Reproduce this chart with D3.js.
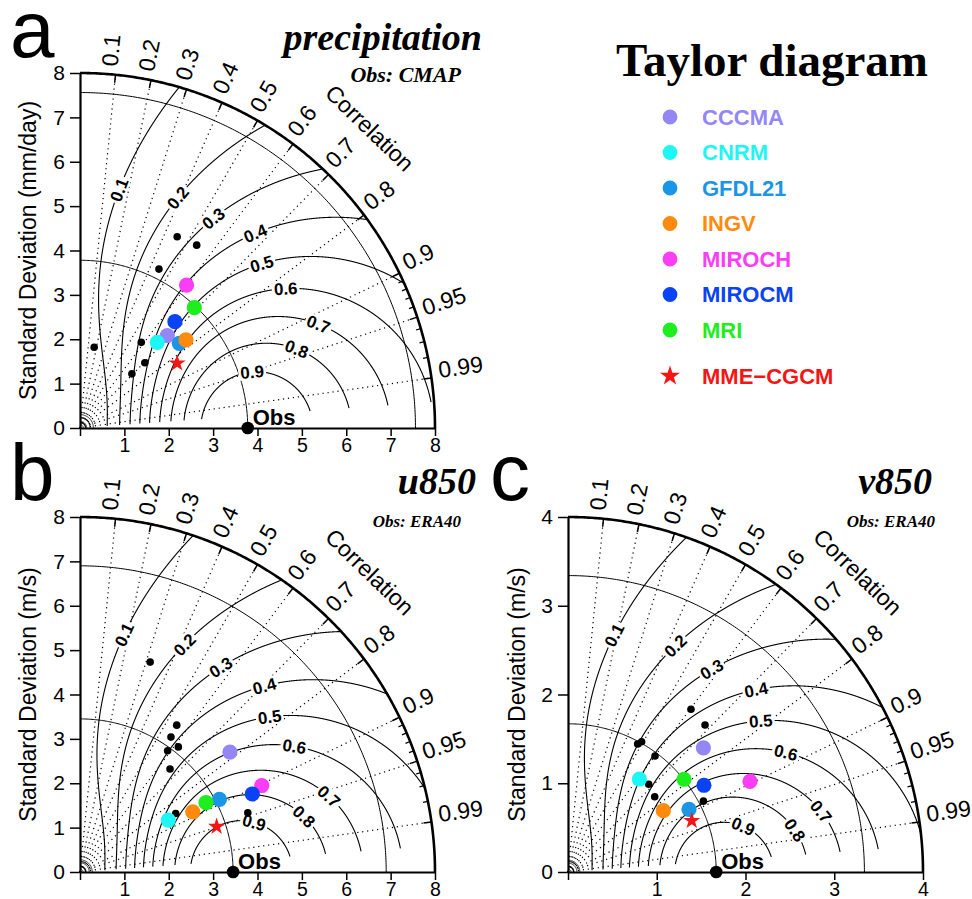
<!DOCTYPE html>
<html><head><meta charset="utf-8">
<script src="https://cdn.jsdelivr.net/npm/d3@7"></script>
<style>body{margin:0;background:#fff}svg{display:block}</style>
</head><body>
<svg id="chart" width="972" height="899"></svg>
<script>
// ---------------- DATA ----------------
const modelNames  = ["CCCMA","CNRM","GFDL21","INGV","MIROCH","MIROCM","MRI","MME\u2212CGCM"];
const modelColors = ["#9586f5","#1ef5f5","#1b95e6","#ff8a0d","#fb3ef5","#0a43f5","#1eee1e","#f51515"];

const corrMajor = [0.1,0.2,0.3,0.4,0.5,0.6,0.7,0.8,0.9,0.95,0.99];
const corrMinor = [0.91,0.92,0.93,0.94,0.96,0.97,0.98];
const skillLevels = [0.1,0.2,0.3,0.4,0.5,0.6,0.7,0.8,0.9];
const stdTicks8 = [0,1,2,3,4,5,6,7,8];
const stdTicks4 = [0,1,2,3,4];
const refArcFactors = [1,2];

// (a) precipitation, Obs: CMAP
const precipObsStd = 3.78;
const precipModelStd  = [2.864,2.601,2.941,3.105,4.016,3.212,3.740,2.631];
const precipModelCorr = [0.687,0.670,0.761,0.769,0.598,0.666,0.689,0.832];
const precipMemberStd  = [4.834,4.888,3.998,1.848,2.373,2.072,1.690];
const precipMemberCorr = [0.453,0.538,0.445,0.173,0.582,0.705,0.692];

// (b) u850, Obs: ERA40
const u850ObsStd = 3.45;
const u850ModelStd  = [4.326,2.308,3.542,2.881,4.536,4.263,3.241,3.245];
const u850ModelCorr = [0.781,0.862,0.887,0.882,0.903,0.911,0.876,0.949];
const u850MemberStd  = [4.987,3.963,3.667,3.586,3.370,3.083,2.528,4.010];
const u850MemberCorr = [0.317,0.550,0.559,0.618,0.586,0.658,0.853,0.943];

// (c) v850, Obs: ERA40
const v850ObsStd = 1.67;
const v850ModelStd  = [2.070,1.321,1.535,1.277,2.291,1.817,1.673,1.509];
const v850ModelCorr = [0.737,0.609,0.888,0.841,0.895,0.843,0.781,0.924];
const v850MemberStd  = [2.298,2.264,1.686,1.642,1.634,1.343,1.294,1.722];
const v850MemberCorr = [0.603,0.682,0.492,0.478,0.600,0.677,0.755,0.886];

// ---------------- LAYOUT ----------------
const SANS = "'Liberation Sans', Arial, Helvetica, sans-serif";
const SERIF = "'Liberation Serif', 'Times New Roman', serif";
const RPX = 355;
const labelRadiusFrac = [0.68,0.705,0.70,0.738,0.69,0.70,0.733,0.65,0.51];

const panels = [
  {letter:"a", ox:80, oy:428, max:8, ticks:stdTicks8, obs:precipObsStd,
   mStd:precipModelStd, mCorr:precipModelCorr, eStd:precipMemberStd, eCorr:precipMemberCorr,
   title:"precipitation", sub:"Obs: CMAP", subSize:22, yTitle:"Standard Deviation (mm/day)",
   titleX:482, titleY:50, subX:461, subY:82, letX:10, letY:57, yTitleX:36},
  {letter:"b", ox:80, oy:872, max:8, ticks:stdTicks8, obs:u850ObsStd,
   mStd:u850ModelStd, mCorr:u850ModelCorr, eStd:u850MemberStd, eCorr:u850MemberCorr,
   title:"u850", sub:"Obs: ERA40", subSize:17, yTitle:"Standard Deviation (m/s)",
   titleX:476, titleY:494, subX:461, subY:527, letX:10, letY:500, yTitleX:36},
  {letter:"c", ox:568, oy:872, max:4, ticks:stdTicks4, obs:v850ObsStd,
   mStd:v850ModelStd, mCorr:v850ModelCorr, eStd:v850MemberStd, eCorr:v850MemberCorr,
   title:"v850", sub:"Obs: ERA40", subSize:17, yTitle:"Standard Deviation (m/s)",
   titleX:932, titleY:494, subX:935, subY:527, letX:490, letY:500, yTitleX:525}
];

const svg = d3.select("#chart");

function skillCorr(S, sh) { // correlation on skill contour S at normalized std sh
  return Math.sqrt(2*Math.sqrt(S)*(sh+1/sh)) - 1;
}

function drawPanel(p) {
  const g = svg.append("g");
  const x = d3.scaleLinear().domain([0,p.max]).range([p.ox, p.ox+RPX]);
  const y = d3.scaleLinear().domain([0,p.max]).range([p.oy, p.oy-RPX]);
  const pos = (s,c) => { c = Math.min(1,Math.max(-1,c)); return [x(s*c), y(s*Math.sqrt(1-c*c))]; };
  const line = d3.line();
  const arc = (s, n=200) => line(d3.range(n+1).map(i => { const t = Math.PI/2*i/n; return pos(s, Math.cos(t)); }));
  const pxPerUnit = RPX/p.max;

  // correlation rays (dotted)
  g.append("g").selectAll("path").data(corrMajor).join("path")
    .attr("d", c => line([pos(0,c), pos(p.max,c)]))
    .attr("fill","none").attr("stroke","#000").attr("stroke-width",1.2)
    .attr("stroke-dasharray","1.2,3.8");

  // tiny arcs near origin
  g.append("g").selectAll("path").data([0.02,0.04,0.06,0.08]).join("path")
    .attr("d", f => arc(f*p.obs, 30)).attr("fill","none").attr("stroke","#000").attr("stroke-width",0.8);

  // reference std arcs
  g.append("g").selectAll("path").data(refArcFactors).join("path")
    .attr("d", f => arc(f*p.obs)).attr("fill","none").attr("stroke","#000").attr("stroke-width",1);

  // skill contours
  const Rcut = 0.9973;
  const cg = g.append("g");
  const lg = g.append("g");
  skillLevels.forEach((S, i) => {
    const K = (1+Rcut)**2/(2*Math.sqrt(S));
    const lo = (K - Math.sqrt(K*K-4))/2;
    const hi = Math.min((K + Math.sqrt(K*K-4))/2, p.max/p.obs);
    const n = 2000;
    const pts = d3.range(n+1).map(j => { const sh = lo + (hi-lo)*j/n; return pos(sh*p.obs, skillCorr(S, sh)); });
    cg.append("path").attr("d", line(pts)).attr("fill","none").attr("stroke","#000").attr("stroke-width",1.1);
    // label
    let sh = labelRadiusFrac[i]*p.max/p.obs;
    sh = Math.max(1.0, Math.min(sh, hi - 0.02));
    const [lx, ly] = pos(sh*p.obs, skillCorr(S, sh));
    const a = pos((sh-0.005)*p.obs, skillCorr(S, sh-0.005));
    const b = pos((sh+0.005)*p.obs, skillCorr(S, sh+0.005));
    let ang = Math.atan2(b[1]-a[1], b[0]-a[0])*180/Math.PI;
    if (ang > 90) ang -= 180; if (ang < -90) ang += 180;
    const lab = lg.append("g").attr("transform", `translate(${lx},${ly}) rotate(${ang})`);
    const rect = lab.append("rect").attr("fill","#fff");
    const t = lab.append("text").text(d3.format(".1f")(S))
      .attr("text-anchor","middle").attr("dy","0.36em")
      .attr("font-family",SANS).attr("font-weight","bold").attr("font-size",17).attr("fill","#000");
    const w = t.node().getComputedTextLength();
    rect.attr("x",-w/2-2).attr("y",-8).attr("width",w+4).attr("height",16);
  });

  // outer arc
  g.append("path").attr("d", arc(p.max, 300)).attr("fill","none").attr("stroke","#000").attr("stroke-width",2.6);
  // ticks on outer arc
  g.append("g").selectAll("path").data(corrMajor).join("path")
    .attr("d", c => line([pos(p.max - 8/pxPerUnit, c), pos(p.max, c)]))
    .attr("stroke","#000").attr("stroke-width",1.5);
  g.append("g").selectAll("path").data(corrMinor).join("path")
    .attr("d", c => line([pos(p.max - 5/pxPerUnit, c), pos(p.max, c)]))
    .attr("stroke","#000").attr("stroke-width",1.2);

  // correlation labels
  g.append("g").selectAll("text").data(corrMajor).join("text")
    .attr("transform", c => { const th = Math.acos(c); const r = RPX + 8;
      return `translate(${p.ox + r*Math.cos(th)},${p.oy - r*Math.sin(th)}) rotate(${-th*180/Math.PI})`; })
    .attr("text-anchor","start").attr("dy","0.05em")
    .attr("font-family",SANS).attr("font-size",23).text(c => c);
  {
    const th = 46*Math.PI/180, r = 417;
    g.append("text").attr("transform", `translate(${p.ox + r*Math.cos(th)},${p.oy - r*Math.sin(th)}) rotate(${90-46})`)
      .attr("text-anchor","middle").attr("dominant-baseline","central")
      .attr("font-family",SANS).attr("font-size",23).text("Correlation");
  }

  // axes
  const yAx = g.append("g").attr("transform",`translate(${p.ox},0)`)
    .call(d3.axisLeft(y).tickValues(p.ticks).tickFormat(d3.format("d")).tickSize(10).tickSizeOuter(0).tickPadding(5));
  const xAx = g.append("g").attr("transform",`translate(0,${p.oy})`)
    .call(d3.axisBottom(x).tickValues(p.ticks).tickFormat(d => d===0 ? "" : d3.format("d")(d)).tickSize(8).tickSizeOuter(0).tickPadding(2));
  [yAx, xAx].forEach(ax => {
    ax.attr("font-family",SANS).attr("font-size",21);
    ax.select(".domain").attr("stroke-width",2.2);
    ax.selectAll(".tick line").attr("stroke-width",1.5);
    ax.selectAll(".tick text").attr("fill","#000");
  });
  xAx.attr("font-size",19.5);

  // y title
  g.append("text").attr("transform",`translate(${p.yTitleX},${(p.oy + p.oy - RPX)/2}) rotate(-90)`)
    .attr("text-anchor","middle").attr("font-family",SANS).attr("font-size",23).text(p.yTitle);

  // member dots
  g.append("g").selectAll("circle").data(d3.range(p.eStd.length)).join("circle")
    .attr("cx", i => pos(p.eStd[i], p.eCorr[i])[0]).attr("cy", i => pos(p.eStd[i], p.eCorr[i])[1])
    .attr("r",3.8).attr("fill","#000");

  // model markers
  const mi = d3.range(p.mStd.length);
  g.append("g").selectAll("path").data(mi).join("path")
    .attr("transform", i => { const q = pos(p.mStd[i], p.mCorr[i]); return `translate(${q[0]},${q[1]})`; })
    .attr("d", i => i === mi.length-1 ? d3.symbol(d3.symbolStar, 92)() : d3.symbol(d3.symbolCircle, Math.PI*7.6*7.6)())
    .attr("fill", i => modelColors[i]);

  // Obs
  const o = pos(p.obs, 1);
  g.append("circle").attr("cx",o[0]).attr("cy",o[1]).attr("r",6.3).attr("fill","#000");
  g.append("text").attr("x",o[0]+5).attr("y",o[1]-3).attr("font-family",SANS).attr("font-weight","bold")
    .attr("font-size",22).text("Obs");

  // titles
  g.append("text").attr("x",p.titleX).attr("y",p.titleY).attr("text-anchor","end")
    .attr("font-family",SERIF).attr("font-weight","bold").attr("font-style","italic").attr("font-size",38).text(p.title);
  g.append("text").attr("x",p.subX).attr("y",p.subY).attr("text-anchor","end")
    .attr("font-family",SERIF).attr("font-weight","bold").attr("font-style","italic").attr("font-size",p.subSize).text(p.sub);
  g.append("text").attr("x",p.letX).attr("y",p.letY).attr("font-family",SANS).attr("font-size",80).text(p.letter);
}

panels.forEach(drawPanel);

// legend
const leg = svg.append("g");
leg.append("text").attr("x",772).attr("y",76).attr("text-anchor","middle")
  .attr("font-family",SERIF).attr("font-weight","bold").attr("font-size",47).text("Taylor diagram");
const legY = i => i < modelNames.length-1 ? 117 + i*35.5 : 376;
leg.selectAll("path").data(d3.range(modelNames.length)).join("path")
  .attr("transform", i => `translate(670,${legY(i)})`)
  .attr("d", i => i === modelNames.length-1 ? d3.symbol(d3.symbolStar, 125)() : d3.symbol(d3.symbolCircle, Math.PI*7.4*7.4)())
  .attr("fill", i => modelColors[i]);
leg.selectAll("text.lab").data(d3.range(modelNames.length)).join("text").attr("class","lab")
  .attr("x",702).attr("y", i => legY(i)).attr("dy","0.36em")
  .attr("font-family",SANS).attr("font-weight","bold").attr("font-size",22)
  .attr("fill", i => modelColors[i]).text(i => modelNames[i]);
</script>
</body></html>
